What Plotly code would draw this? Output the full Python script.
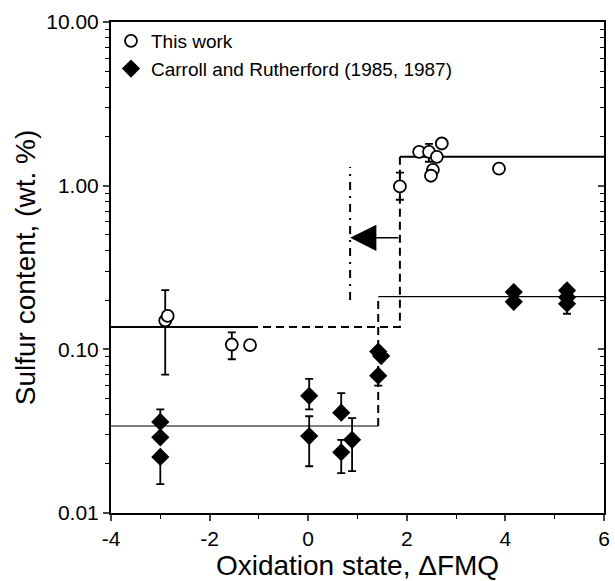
import math
import plotly.graph_objects as go

# ---------------- data ----------------
# This work (open circles)
tw_x = [-2.90, -2.85, -1.55, -1.18, 1.86, 2.25, 2.45, 2.61, 2.71, 2.53, 2.49, 3.87]
tw_y = [0.150, 0.160, 0.107, 0.106, 0.99, 1.61, 1.61, 1.50, 1.81, 1.25, 1.15, 1.27]
tw_err_hi = [0.230, None, 0.127, None, 1.20, None, 1.80, None, None, None, None, None]
tw_err_lo = [0.070, None, 0.087, None, 0.82, None, 1.40, None, None, None, None, None]

# Carroll and Rutherford (1985, 1987) (filled diamonds)
cr_x = [-3.0, -3.0, -3.0, 0.02, 0.02, 0.67, 0.67, 0.89, 1.42, 1.48, 1.42, 4.17, 4.17, 5.25, 5.25, 5.25]
cr_y = [0.036, 0.029, 0.022, 0.052, 0.0295, 0.041, 0.0235, 0.028, 0.097, 0.091, 0.069, 0.224, 0.195, 0.229, 0.208, 0.190]
cr_err_hi = [0.043, None, None, 0.066, 0.039, 0.054, 0.028, 0.038, None, None, None, None, None, 0.245, None, None]
cr_err_lo = [None, None, 0.015, 0.043, 0.0193, None, 0.0175, 0.018, None, None, 0.060, None, None, None, None, 0.165]

# Step levels
tw_low_level = 0.137
tw_high_level = 1.50
tw_step_x = 1.86
tw_solid_end = -1.18
cr_low_level = 0.034
cr_high_level = 0.21
cr_step_x = 1.42
shift_x = 0.85
shift_y_range = [0.20, 1.30]
arrow_y = 0.48

x_ticks = [-4, -2, 0, 2, 4, 6]
x_tick_text = ["-4", "-2", "0", "2", "4", "6"]
y_tick_vals = [0.01, 0.1, 1, 10]
y_tick_text = ["0.01", "0.10", "1.00", "10.00"]
y_minor_vals = [m * 10 ** d for d in (-2, -1, 0) for m in range(2, 10)]

FONT = "Arial, Liberation Sans, sans-serif"

fig = go.Figure()


def err_trace(xs, ys, hi, lo):
    px, py, ph, pl = [], [], [], []
    for x, y, h, l in zip(xs, ys, hi, lo):
        if h is None and l is None:
            continue
        px.append(x)
        py.append(y)
        ph.append((h - y) if h is not None else 0)
        pl.append((y - l) if l is not None else 0)
    return go.Scatter(
        x=px, y=py, mode="markers", marker=dict(size=1, opacity=0),
        showlegend=False, hoverinfo="skip",
        error_y=dict(type="data", symmetric=False, array=ph, arrayminus=pl,
                     color="black", thickness=1.8, width=4),
    )


# lines - this work
fig.add_trace(go.Scatter(x=[-4, tw_solid_end], y=[tw_low_level, tw_low_level], mode="lines",
                         line=dict(color="black", width=2), showlegend=False, hoverinfo="skip"))
fig.add_trace(go.Scatter(x=[tw_solid_end, tw_step_x, tw_step_x], y=[tw_low_level, tw_low_level, tw_high_level],
                         mode="lines", line=dict(color="black", width=2, dash="8px,5px"),
                         showlegend=False, hoverinfo="skip"))
fig.add_trace(go.Scatter(x=[tw_step_x, 6], y=[tw_high_level, tw_high_level], mode="lines",
                         line=dict(color="black", width=2), showlegend=False, hoverinfo="skip"))
# lines - Carroll
fig.add_trace(go.Scatter(x=[-4, cr_step_x], y=[cr_low_level, cr_low_level], mode="lines",
                         line=dict(color="black", width=1.2), showlegend=False, hoverinfo="skip"))
fig.add_trace(go.Scatter(x=[cr_step_x, cr_step_x], y=[cr_low_level, cr_high_level], mode="lines",
                         line=dict(color="black", width=2, dash="8px,5px"), showlegend=False, hoverinfo="skip"))
fig.add_trace(go.Scatter(x=[cr_step_x, 6], y=[cr_high_level, cr_high_level], mode="lines",
                         line=dict(color="black", width=1.2), showlegend=False, hoverinfo="skip"))
# dash-dot shift line
fig.add_trace(go.Scatter(x=[shift_x, shift_x], y=shift_y_range, mode="lines",
                         line=dict(color="black", width=2, dash="8px,6px,2px,6px"),
                         showlegend=False, hoverinfo="skip"))

# error bars
fig.add_trace(err_trace(tw_x, tw_y, tw_err_hi, tw_err_lo))
fig.add_trace(err_trace(cr_x, cr_y, cr_err_hi, cr_err_lo))

# markers
fig.add_trace(go.Scatter(x=tw_x, y=tw_y, mode="markers", name="This work",
                         marker=dict(symbol="circle", size=12, color="white",
                                     line=dict(color="black", width=1.8))))
fig.add_trace(go.Scatter(x=cr_x, y=cr_y, mode="markers", name="Carroll and Rutherford (1985, 1987)",
                         marker=dict(symbol="diamond", size=14, color="black",
                                     line=dict(color="black", width=0))))

# arrow
fig.add_annotation(x=shift_x, y=math.log10(arrow_y), ax=tw_step_x, ay=math.log10(arrow_y),
                   xref="x", yref="y", axref="x", ayref="y", text="", showarrow=True,
                   arrowhead=2, arrowsize=3.5, arrowwidth=1.5, arrowcolor="black")

# dummy trace to activate yaxis2 (inside ticks on the right frame)
fig.add_trace(go.Scatter(x=[None], y=[None], yaxis="y2", showlegend=False, hoverinfo="skip"))

fig.update_layout(
    width=615, height=581,
    margin=dict(l=111, r=11, t=22, b=68),
    paper_bgcolor="white", plot_bgcolor="white",
    font=dict(family=FONT, size=21, color="black"),
    showlegend=True,
    legend=dict(x=0.0, y=1.0, xanchor="left", yanchor="top",
                bgcolor="rgba(0,0,0,0)", font=dict(size=19), itemwidth=30,
                tracegroupgap=0),
    xaxis=dict(range=[-4, 6], tickvals=x_ticks, ticktext=x_tick_text, ticks="outside", ticklen=6, tickwidth=1.5,
               showline=True, linewidth=2, linecolor="black", mirror=True,
               showgrid=False, zeroline=False, automargin=False,
               minor=dict(dtick=1, tick0=-4, ticks="outside", ticklen=4, tickwidth=1.2, tickcolor="black"),
               title=dict(text="Oxidation state, \u0394FMQ", font=dict(size=28), standoff=0),
               tickfont=dict(size=21)),
    yaxis=dict(type="log", range=[-2, 1], tickvals=y_tick_vals, ticktext=y_tick_text,
               ticks="outside", ticklen=6, tickwidth=1.5,
               showline=True, linewidth=2, linecolor="black", mirror=True,
               showgrid=False, zeroline=False, automargin=False,
               minor=dict(tickmode="array", tickvals=y_minor_vals, ticks="outside", ticklen=4,
                          tickwidth=1.2, tickcolor="black"),
               title=dict(text="Sulfur content, (wt. %)", font=dict(size=28), standoff=2),
               tickfont=dict(size=21)),
    yaxis2=dict(type="log", range=[-2, 1], overlaying="y", side="right",
                tickvals=y_tick_vals, showticklabels=False, ticks="inside", ticklen=6, tickwidth=1.5,
                showgrid=False, zeroline=False, showline=False, automargin=False,
                minor=dict(tickmode="array", tickvals=y_minor_vals, ticks="inside", ticklen=4,
                           tickwidth=1.2, tickcolor="black")),
)

fig.write_html("out.html", config={"displayModeBar": False},
               post_script="document.body.style.margin='0';document.body.style.overflow='hidden';")
